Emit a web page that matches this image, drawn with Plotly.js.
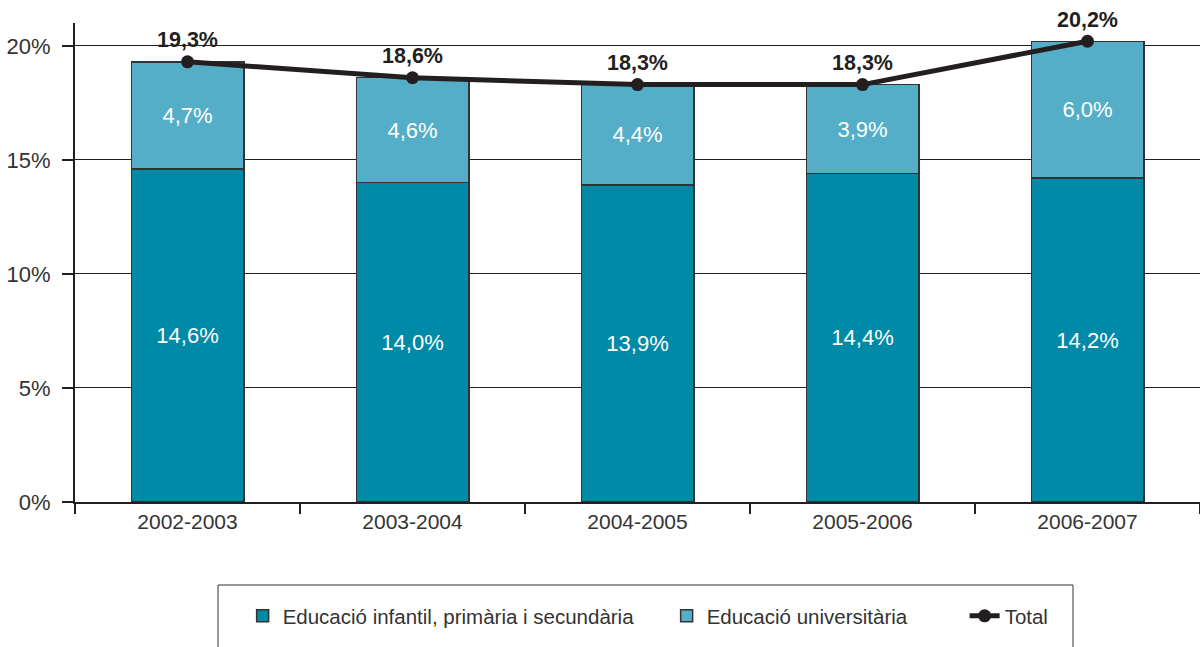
<!DOCTYPE html>
<html>
<head>
<meta charset="utf-8">
<script src="https://cdn.plot.ly/plotly-3.0.1.min.js"></script>
<style>html,body{margin:0;padding:0;background:#fff;overflow:hidden}</style>
</head>
<body>
<div id="chart" style="width:1200px;height:647px"></div>
<script>
const years = ["2002-2003", "2003-2004", "2004-2005", "2005-2006", "2006-2007"];
const basica = [14.6, 14.0, 13.9, 14.4, 14.2];
const universitaria = [4.7, 4.6, 4.4, 3.9, 6.0];
const total = [19.3, 18.6, 18.3, 18.3, 20.2];
const seriesNames = ["Educació infantil, primària i secundària", "Educació universitària", "Total"];
const yTicks = [0, 5, 10, 15, 20];
const yTickText = yTicks.map(v => v + "%");

const FONT = "'Liberation Sans', Arial, Helvetica, sans-serif";
const DARK = "#008AA7";
const LIGHT = "#54AEC7";
const INK = "#231f20";

const traces = [
  {
    type: "bar", name: seriesNames[0], x: years, y: basica,
    marker: {color: DARK, line: {color: "#333", width: 1.5}},
    text: basica, texttemplate: "%{y:.1f}%", textposition: "inside",
    insidetextanchor: "middle", textangle: 0,
    textfont: {color: "#fff", size: 22, family: FONT},
    legendwidth: 379,
    hoverinfo: "skip"
  },
  {
    type: "bar", name: seriesNames[1], x: years, y: universitaria,
    marker: {color: LIGHT, line: {color: "#333", width: 1.5}},
    text: universitaria, texttemplate: "%{y:.1f}%", textposition: "inside",
    insidetextanchor: "middle", textangle: 0,
    textfont: {color: "#fff", size: 22, family: FONT},
    legendwidth: 253,
    hoverinfo: "skip"
  },
  {
    type: "scatter", name: seriesNames[2], x: years, y: total,
    mode: "lines+markers+text",
    line: {color: INK, width: 5},
    marker: {color: INK, size: 13},
    text: total, texttemplate: "<b>%{y:.1f}%</b>", textposition: "top center",
    textfont: {color: INK, size: 21.5, family: FONT},
    cliponaxis: false,
    legendwidth: 60,
    hoverinfo: "skip"
  }
];

const layout = {
  width: 1200, height: 647,
  margin: {l: 75, r: 0, t: 23, b: 145},
  paper_bgcolor: "#fff", plot_bgcolor: "#fff",
  separators: ",.",
  barmode: "stack", bargap: 0.5,
  font: {family: FONT, color: "#333", size: 21},
  showlegend: true,
  legend: {
    orientation: "h", x: 0.149, xanchor: "left", y: -0.238, yanchor: "middle",
    font: {size: 20.5, color: "#333", family: FONT},
    itemgap: 0, traceorder: "normal", bgcolor: "rgba(0,0,0,0)"
  },
  xaxis: {
    type: "category", showgrid: false, showline: true, linecolor: INK, linewidth: 2,
    ticks: "outside", tickson: "boundaries", ticklen: 10, tickwidth: 2, tickcolor: INK,
    tickfont: {size: 21, color: "#333"}, zeroline: false, fixedrange: true
  },
  yaxis: {
    range: [0, 21], tickmode: "array", tickvals: yTicks, ticktext: yTickText,
    showgrid: true, gridcolor: INK, gridwidth: 1,
    showline: true, linecolor: INK, linewidth: 2,
    ticks: "outside", ticklen: 11, tickwidth: 2, tickcolor: INK,
    ticklabelstandoff: 7,
    tickfont: {size: 22, color: "#333"}, zeroline: false, fixedrange: true
  },
  shapes: [
    {type: "rect", xref: "paper", yref: "paper",
     x0: (218 - 75) / 1125, x1: (1073 - 75) / 1125,
     y0: (502 - 585) / 479, y1: (502 - 680) / 479,
     line: {color: "#333", width: 1}, fillcolor: "rgba(0,0,0,0)", layer: "below"}
  ]
};

Plotly.newPlot("chart", traces, layout, {displayModeBar: false, staticPlot: true});
</script>
</body>
</html>
